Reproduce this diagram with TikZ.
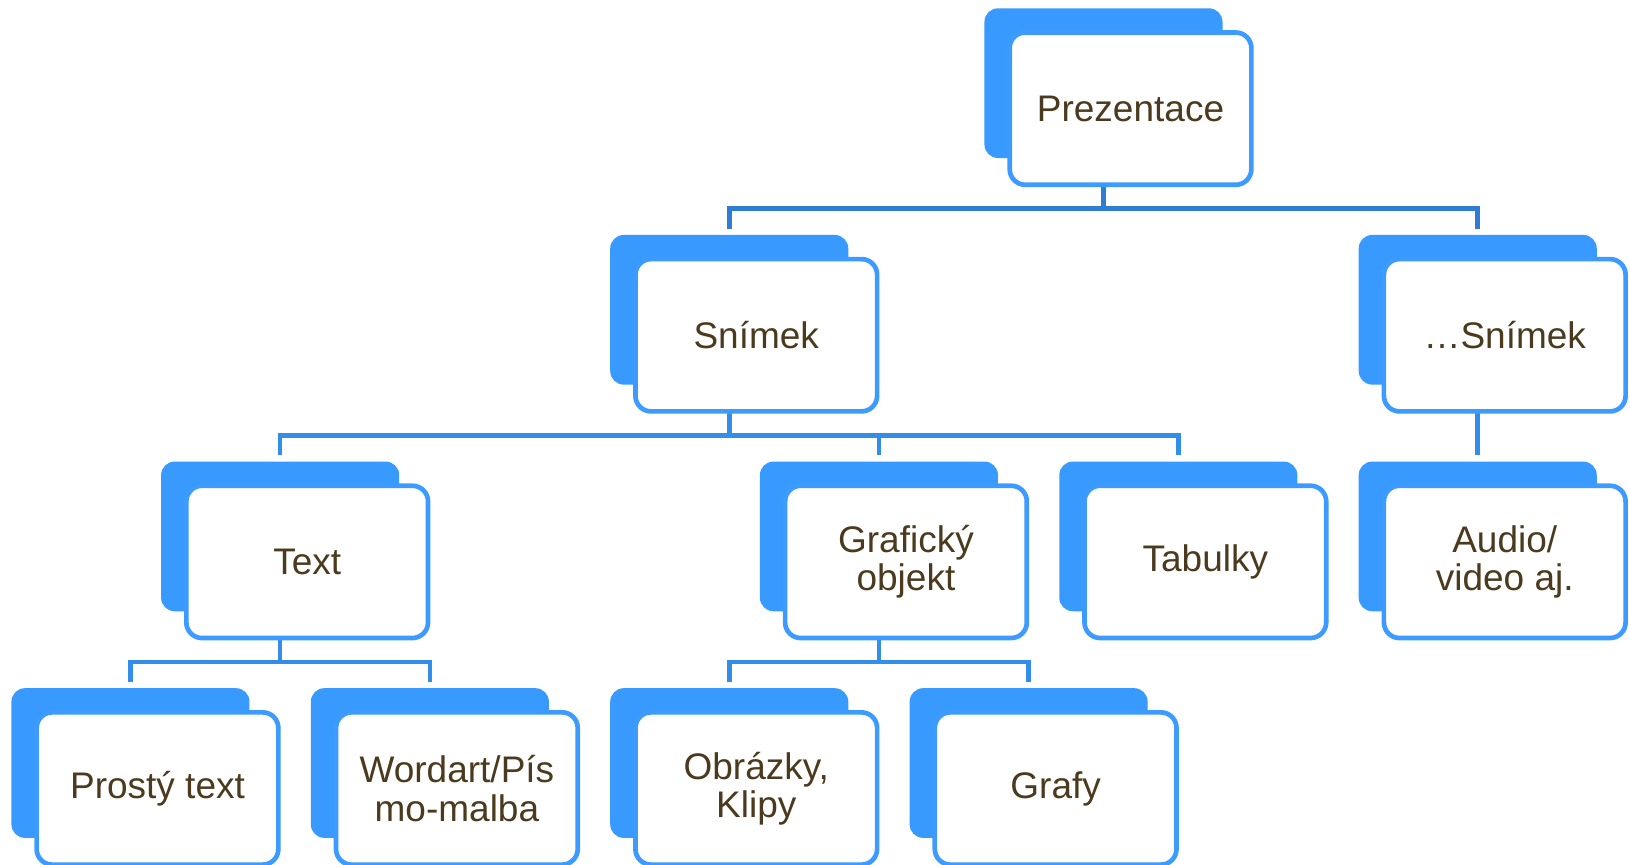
\documentclass[tikz,border=0pt]{standalone}
\usepackage{fontspec}
\setmainfont{Liberation Sans}
\usetikzlibrary{calc,backgrounds}
\definecolor{backblue}{HTML}{3899FF}
\definecolor{edgeblue}{HTML}{3D9BFF}
\definecolor{linetop}{HTML}{2F7DD2}
\definecolor{linelow}{HTML}{338DEA}
\definecolor{txtbrown}{HTML}{4B3A1E}
\tikzset{
  backbox/.style={fill=backblue, draw=none, rounded corners=13pt, minimum width=229pt, minimum height=144pt, anchor=north west, inner sep=0pt, outer sep=0pt},
  frontbox/.style={fill=white, draw=edgeblue, line width=4.5pt, rounded corners=15pt, minimum width=232.5pt, minimum height=146.5pt, anchor=center, align=center, text=txtbrown, font=\fontsize{35.6}{37}\selectfont, inner sep=0pt, outer sep=0pt},
  conntop/.style={draw=linetop, line width=5.1pt, line join=miter},
  connlow/.style={draw=linelow, line width=4.4pt, line join=miter},
}
\newcommand\orgnode[4]{%
  \node[backbox] (#1b) at (#2,#3) {};
  \node[frontbox] (#1f) at (#2+140.5,#3+96.5) {#4};}
\begin{document}
\begin{tikzpicture}[x=1pt,y=-1pt]
\useasboundingbox (0,0) rectangle (1568,832);
\orgnode{p}{947}{8}{Prezentace}
\orgnode{s}{587}{226}{Snímek}
\orgnode{e}{1307}{226}{…Snímek}
\orgnode{t}{155}{444}{Text}
\orgnode{g}{731}{444}{Grafický\\objekt}
\orgnode{tab}{1019}{444}{Tabulky}
\orgnode{a}{1307}{444}{Audio/\\video aj.}
\orgnode{pt}{11}{662}{Prostý text}
\orgnode{w}{299}{662}{Wordart/Pís\\mo-malba}
\orgnode{o}{587}{662}{Obrázky,\\Klipy}
\orgnode{gr}{875}{662}{Grafy}
\begin{pgfonlayer}{background}
  % Prezentace
  \coordinate (j0) at ($(pf.south)+(0,23)$);
  \draw[conntop] (pb.center |- pf.south) -- (pb.center |- j0);
  \draw[conntop] ($(sb.north)+(0,-6)$) |- (j0) -| ($(eb.north)+(0,-6)$);
  % Snímek
  \coordinate (j1) at ($(sf.south)+(0,23)$);
  \draw[connlow] (sb.center |- sf.south) -- (sb.center |- j1);
  \draw[connlow] ($(tb.north)+(0,-6)$) |- (j1) -| ($(tabb.north)+(0,-6)$);
  \draw[connlow] ($(gb.north)+(0,-6)$) -- (gb.north |- j1);
  % ...Snímek
  \draw[connlow] (eb.center |- ef.south) -- ($(ab.north)+(0,-6)$);
  % Text
  \coordinate (j2) at ($(tf.south)+(0,23)$);
  \draw[connlow] (tb.center |- tf.south) -- (tb.center |- j2);
  \draw[connlow] ($(ptb.north)+(0,-6)$) |- (j2) -| ($(wb.north)+(0,-6)$);
  % Grafický objekt
  \coordinate (j3) at ($(gf.south)+(0,23)$);
  \draw[connlow] (gb.center |- gf.south) -- (gb.center |- j3);
  \draw[connlow] ($(ob.north)+(0,-6)$) |- (j3) -| ($(grb.north)+(0,-6)$);
\end{pgfonlayer}
\end{tikzpicture}
\end{document}
